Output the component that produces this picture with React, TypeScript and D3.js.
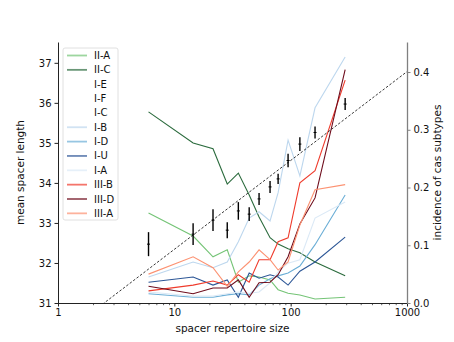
import React, { useEffect, useRef } from "react";
import * as d3 from "d3";

// bin centres (spacer repertoire size)
const sizes = [6, 14.5, 21.5, 28.5, 35.5, 44, 53.5, 66.5, 78, 95, 120, 162, 294];

// mean spacer length per bin, with error half-width
const meanLength = [32.47, 32.72, 33.07, 32.82, 33.3, 33.22, 33.6, 33.9, 34.1, 34.56, 34.97, 35.26, 35.97];
const meanErr = [0.3, 0.27, 0.27, 0.2, 0.22, 0.17, 0.15, 0.15, 0.13, 0.17, 0.17, 0.15, 0.15];

// fitted trend line (endpoints)
const fitX = [1, 1000];
const fitY = [30.12, 36.78];

// incidence of cas subtypes
const subtypes = ["II-A", "II-C", "I-E", "I-F", "I-C", "I-B", "I-D", "I-U", "I-A", "III-B", "III-D", "III-A"];
const subtypeColors = ["#74c476", "#2b6b3d", "#ffffff", "#ffffff", "#ffffff", "#bdd7ee", "#6baed6", "#2c5696", "#dbe9f6", "#ef3b2c", "#6e0c1c", "#fc9272"];
const incidence: Record<string, number[]> = {
  "II-A": [0.156, 0.116, 0.08, 0.092, 0.036, 0.047, 0.045, 0.04, 0.023, 0.017, 0.014, 0.007, 0.01],
  "II-C": [0.331, 0.277, 0.267, 0.206, 0.225, 0.187, 0.149, 0.113, 0.102, 0.094, 0.087, 0.071, 0.047],
  "I-B": [0.045, 0.071, 0.061, 0.071, 0.106, 0.147, 0.158, 0.142, 0.191, 0.282, 0.22, 0.338, 0.426],
  "I-D": [0.016, 0.01, 0.01, 0.014, 0.016, 0.014, 0.031, 0.042, 0.047, 0.052, 0.064, 0.101, 0.187],
  "I-U": [0.036, 0.045, 0.031, 0.04, 0.01, 0.052, 0.043, 0.049, 0.045, 0.031, 0.055, 0.071, 0.114],
  "I-A": [0.019, 0.012, 0.012, 0.016, 0.019, 0.017, 0.019, 0.035, 0.054, 0.069, 0.075, 0.147, 0.175],
  "III-B": [0.021, 0.031, 0.038, 0.031, 0.049, 0.036, 0.075, 0.075, 0.106, 0.113, 0.208, 0.229, 0.386],
  "III-D": [0.029, 0.016, 0.026, 0.026, 0.04, 0.01, 0.035, 0.036, 0.049, 0.08, 0.137, 0.182, 0.404],
  "III-A": [0.05, 0.08, 0.061, 0.029, 0.054, 0.071, 0.092, 0.075, 0.057, 0.071, 0.135, 0.196, 0.205],
};
const drawOrder = ["II-A", "II-C", "I-B", "I-D", "I-U", "I-A", "III-B", "III-D", "III-A"];

const xTicks = [1, 10, 100, 1000];
const yTicks = [31, 32, 33, 34, 35, 36, 37];
const y2Ticks = [0, 0.1, 0.2, 0.3, 0.4];

const App = () => {
  const ref = useRef<SVGSVGElement>(null);

  useEffect(() => {
    const width = 454;
    const height = 342;
    const marginLeft = 58;
    const marginRight = 47;
    const marginTop = 42;
    const marginBottom = 39;
    const font = "DejaVu Sans, Verdana, sans-serif";

    const x = d3.scaleLog().domain([1, 1000]).range([marginLeft, width - marginRight]);
    const y = d3.scaleLinear().domain([31, 37.52]).range([height - marginBottom, marginTop]);
    const y2 = d3.scaleLinear().domain([0, 0.452]).range([height - marginBottom, marginTop]);

    const svg = d3.select(ref.current);
    svg.selectAll("*").remove();

    svg.append("defs").append("clipPath").attr("id", "plot-clip")
      .append("rect")
      .attr("x", marginLeft).attr("y", marginTop)
      .attr("width", width - marginLeft - marginRight)
      .attr("height", height - marginTop - marginBottom);

    const plot = svg.append("g").attr("clip-path", "url(#plot-clip)");

    // subtype incidence lines (right axis)
    const line2 = d3.line<number>()
      .x((_, i) => x(sizes[i]))
      .y((d) => y2(d));
    drawOrder.forEach((name) => {
      plot.append("path")
        .datum(incidence[name])
        .attr("fill", "none")
        .attr("stroke", subtypeColors[subtypes.indexOf(name)])
        .attr("stroke-width", 1.1)
        .attr("d", line2);
    });

    // trend line
    plot.append("path")
      .datum(fitX.map((v, i) => [v, fitY[i]] as [number, number]))
      .attr("fill", "none")
      .attr("stroke", "#222")
      .attr("stroke-width", 0.9)
      .attr("stroke-dasharray", "2.5,1.8")
      .attr("d", d3.line<[number, number]>().x((d) => x(d[0])).y((d) => y(d[1])));

    // error bars
    const bars = plot.append("g");
    sizes.forEach((s, i) => {
      bars.append("line")
        .attr("x1", x(s)).attr("x2", x(s))
        .attr("y1", y(meanLength[i] - meanErr[i]))
        .attr("y2", y(meanLength[i] + meanErr[i]))
        .attr("stroke", "#000").attr("stroke-width", 1.4);
      bars.append("line")
        .attr("x1", x(s) - 1.5).attr("x2", x(s) + 1.5)
        .attr("y1", y(meanLength[i])).attr("y2", y(meanLength[i]))
        .attr("stroke", "#000").attr("stroke-width", 1);
    });

    // x axis
    const xAxis = svg.append("g")
      .attr("transform", `translate(0,${height - marginBottom})`)
      .call(
        d3.axisBottom(x)
          .tickValues(d3.range(0, 3).flatMap((e) => d3.range(2, 10).map((m) => m * 10 ** e)))
          .tickFormat(() => "")
          .tickSize(2.2)
          .tickSizeOuter(0)
      );
    xAxis.select(".domain").attr("stroke", "#222");
    xAxis.selectAll(".tick line").attr("stroke", "#222").attr("stroke-width", 0.7);

    const xMajor = svg.append("g")
      .attr("transform", `translate(0,${height - marginBottom})`)
      .call(d3.axisBottom(x).tickValues(xTicks).tickFormat(d3.format("d")).tickSize(3.5).tickSizeOuter(0));
    xMajor.select(".domain").remove();
    xMajor.selectAll(".tick line").attr("stroke", "#222");
    xMajor.selectAll(".tick text").attr("font-family", font).attr("font-size", 10).attr("fill", "#111").attr("dy", "0.6em");

    // left axis
    const yAxis = svg.append("g")
      .attr("transform", `translate(${marginLeft},0)`)
      .call(d3.axisLeft(y).tickValues(yTicks).tickFormat(d3.format("d")).tickSize(3.5).tickSizeOuter(0));
    yAxis.select(".domain").attr("stroke", "#222");
    yAxis.selectAll(".tick line").attr("stroke", "#222");
    yAxis.selectAll(".tick text").attr("font-family", font).attr("font-size", 10).attr("fill", "#111");

    // right axis
    const y2Axis = svg.append("g")
      .attr("transform", `translate(${width - marginRight},0)`)
      .call(d3.axisRight(y2).tickValues(y2Ticks).tickFormat(d3.format(".1f")).tickSize(3.5).tickSizeOuter(0));
    y2Axis.select(".domain").attr("stroke", "#808080").attr("stroke-width", 1.3);
    y2Axis.selectAll(".tick line").attr("stroke", "#808080");
    y2Axis.selectAll(".tick text").attr("font-family", font).attr("font-size", 10).attr("fill", "#111");

    // axis labels
    svg.append("text")
      .attr("x", (marginLeft + width - marginRight) / 2)
      .attr("y", height - 10)
      .attr("text-anchor", "middle")
      .attr("font-family", font).attr("font-size", 10.5).attr("fill", "#111")
      .text("spacer repertoire size");
    svg.append("text")
      .attr("transform", `translate(24,${(marginTop + height - marginBottom) / 2}) rotate(-90)`)
      .attr("text-anchor", "middle")
      .attr("font-family", font).attr("font-size", 10.5).attr("fill", "#111")
      .text("mean spacer length");
    svg.append("text")
      .attr("transform", `translate(${width - 13},${(marginTop + height - marginBottom) / 2}) rotate(-90)`)
      .attr("text-anchor", "middle")
      .attr("font-family", font).attr("font-size", 10.5).attr("fill", "#111")
      .text("incidence of cas subtypes");

    // legend
    const legend = svg.append("g").attr("transform", `translate(${marginLeft + 5},${marginTop + 6})`);
    legend.append("rect")
      .attr("width", 55).attr("height", 172).attr("rx", 2)
      .attr("fill", "#fff").attr("fill-opacity", 0.8)
      .attr("stroke", "#d8d8d8").attr("stroke-width", 0.8);
    subtypes.forEach((name, i) => {
      const row = legend.append("g").attr("transform", `translate(0,${7.5 + i * 14.35})`);
      row.append("line")
        .attr("x1", 4).attr("x2", 24)
        .attr("stroke", subtypeColors[i]).attr("stroke-width", 1.8).attr("stroke-opacity", 0.7);
      row.append("text")
        .attr("x", 31).attr("dy", "0.35em")
        .attr("font-family", font).attr("font-size", 10).attr("fill", "#111")
        .text(name);
    });
  }, []);

  return (
    <svg
      ref={ref}
      width={454}
      height={342}
      style={{ position: "absolute", left: 0, top: 0, background: "#fff" }}
    />
  );
};

export default App;
